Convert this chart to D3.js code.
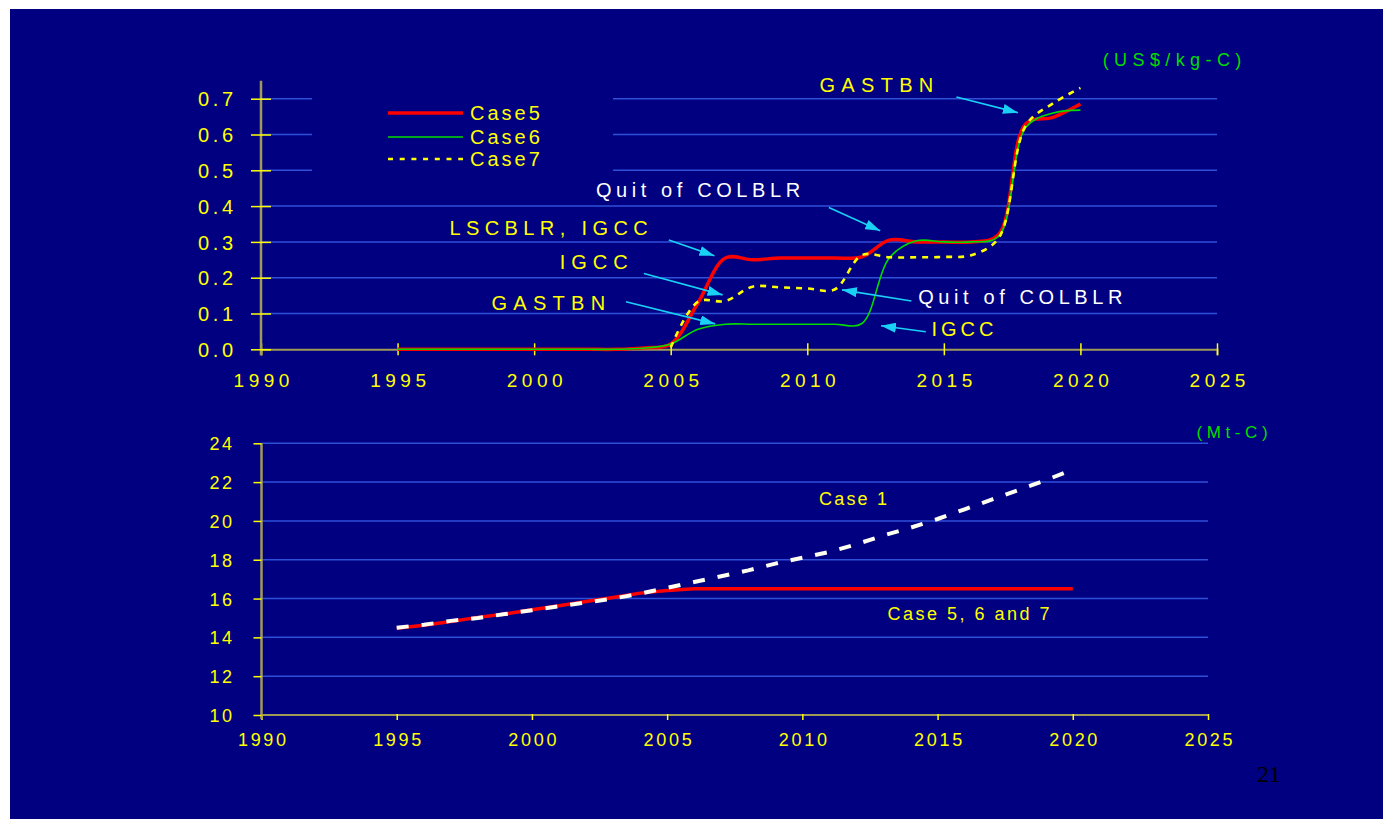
<!DOCTYPE html>
<html>
<head>
<meta charset="utf-8">
<script src="https://cdn.jsdelivr.net/npm/d3@7/dist/d3.min.js"></script>
<style>
  html, body { margin: 0; padding: 0; background: #ffffff; }
  svg { display: block; }
  text { font-family: "Liberation Sans", Arial, sans-serif; }
</style>
</head>
<body>
<svg id="chart" width="1383" height="819"></svg>
<script>
// ---------------- DATA ----------------
const years = [1995,1996,1997,1998,1999,2000,2001,2002,2003,2004,2005,2006,2007,2008,2009,2010,2011,2012,2013,2014,2015,2016,2017,2018,2019,2020];

// Top chart: carbon price (US$/kg-C)
const case5 = [0,0,0,0,0,0,0,0,0,0.004,0.015,0.13,0.255,0.25,0.255,0.255,0.255,0.258,0.305,0.30,0.30,0.30,0.32,0.63,0.648,0.685];
const case6 = [0,0,0,0,0,0,0,0,0,0.003,0.015,0.056,0.07,0.07,0.07,0.07,0.07,0.072,0.255,0.303,0.30,0.30,0.315,0.62,0.66,0.668];
const case7 = [null,null,null,null,null,null,null,null,null,null,0.005,0.133,0.135,0.175,0.173,0.17,0.167,0.263,0.257,0.257,0.258,0.263,0.31,0.625,0.687,0.73];

// Bottom chart: emissions (Mt-C)
const case1 = [14.5,14.65,14.85,15.0,15.2,15.4,15.6,15.8,16.0,16.25,16.55,16.85,17.15,17.45,17.8,18.1,18.4,18.8,19.25,19.65,20.1,20.6,21.1,21.6,22.1,22.65];
const case567 = [14.47,14.63,14.82,15.03,15.2,15.42,15.63,15.85,16.05,16.28,16.42,16.5,16.5,16.5,16.5,16.5,16.5,16.5,16.5,16.5,16.5,16.5,16.5,16.5,16.5,16.5];

const xTicks = [1990,1995,2000,2005,2010,2015,2020,2025];
const yTicksTop = [0,0.1,0.2,0.3,0.4,0.5,0.6,0.7];
const yTicksBot = [10,12,14,16,18,20,22,24];

const legendNames = ["Case5","Case6","Case7"];

// annotations (data coordinates of top chart)
const annotations = [
  {text:"GASTBN",          color:"#ffff00", tx:2012.53, ty:0.738, ls:6.3, x1:2015.46, y1:0.705, x2:2017.71, y2:0.661},
  {text:"Quit of COLBLR",  color:"#ffffff", tx:2006.0,  ty:0.445, ls:4.6, x1:2010.79, y1:0.396, x2:2012.67, y2:0.331},
  {text:"LSCBLR, IGCC",    color:"#ffff00", tx:2000.53, ty:0.339, ls:5.4, x1:2004.93, y1:0.305, x2:2006.6,  y2:0.261},
  {text:"IGCC",            color:"#ffff00", tx:2002.18, ty:0.244, ls:6.0, x1:2004.02, y1:0.212, x2:2006.9,  y2:0.152},
  {text:"GASTBN",          color:"#ffff00", tx:2000.52, ty:0.129, ls:6.3, x1:2003.36, y1:0.133, x2:2006.63, y2:0.071},
  {text:"Quit of COLBLR",  color:"#ffffff", tx:2017.8,  ty:0.146, ls:4.6, x1:2013.81, y1:0.135, x2:2011.27, y2:0.166},
  {text:"IGCC",            color:"#ffff00", tx:2015.68, ty:0.057, ls:4.0, x1:2014.34, y1:0.049, x2:2012.7,  y2:0.066}
];

// ---------------- DRAW ----------------
const svg = d3.select("#chart");
const NAVY = "#000080", GRID = "#2e4fd8", AXIS = "#a09a58", YEL = "#ffff00", GREEN = "#00dd00", CYAN = "#19d0f5";

svg.append("rect").attr("x",10).attr("y",9).attr("width",1373).attr("height",810).attr("fill",NAVY);

const defs = svg.append("defs");
defs.append("marker").attr("id","ah").attr("viewBox","0 0 15 10")
  .attr("refX",15).attr("refY",5).attr("markerWidth",15).attr("markerHeight",10)
  .attr("markerUnits","userSpaceOnUse").attr("orient","auto")
  .append("path").attr("d","M0,0 L15,5 L0,10 Z").attr("fill",CYAN);

// ===== TOP CHART =====
const xT = d3.scaleLinear().domain([1990,2025]).range([261,1217]);
const yT = d3.scaleLinear().domain([0,0.75]).range([349.3,80.8]);

const gT = svg.append("g");
gT.selectAll("line.grid").data(yTicksTop.filter(d=>d>0)).join("line")
  .attr("x1",xT(1990)).attr("x2",xT(2025)).attr("y1",d=>yT(d)).attr("y2",d=>yT(d))
  .attr("stroke",GRID).attr("stroke-width",1.5);

gT.append("rect").attr("x",312).attr("y",88).attr("width",301).attr("height",95).attr("fill",NAVY);

const axT = gT.append("g").attr("transform",`translate(0,${yT(0)})`)
  .call(d3.axisBottom(xT).tickValues(xTicks).tickFormat(d3.format("d")).tickSize(6));
axT.select(".domain").attr("stroke",AXIS).attr("stroke-width",2);
axT.selectAll(".tick line").attr("y1",-6).attr("y2",6).attr("stroke",YEL).attr("stroke-width",1.5);
axT.selectAll(".tick text").attr("fill",YEL).attr("font-size",19).attr("letter-spacing",4.5)
  .attr("y",24).attr("dy","0.71em").attr("dx",2.25);

const ayT = gT.append("g").attr("transform",`translate(${xT(1990)},0)`)
  .call(d3.axisLeft(yT).tickValues(yTicksTop).tickFormat(d3.format(".1f")).tickSize(10));
ayT.select(".domain").attr("d",`M0,${yT(0.75)}V${yT(0)+6}`).attr("stroke",AXIS).attr("stroke-width",2.5);
ayT.selectAll(".tick line").attr("x1",-10).attr("x2",10).attr("stroke",YEL).attr("stroke-width",1.5);
ayT.selectAll(".tick text").attr("fill",YEL).attr("font-size",20).attr("letter-spacing",3.6)
  .attr("x",-28+3.6).attr("dy","0.36em");

const lineT = (vals) => d3.line().defined(d=>d!==null).x((d,i)=>xT(years[i])).y(d=>yT(d)).curve(d3.curveCatmullRom.alpha(0.5))(vals);
gT.append("path").attr("d",lineT(case5)).attr("fill","none").attr("stroke","#ff0000").attr("stroke-width",3.5).attr("stroke-linejoin","round");
gT.append("path").attr("d",lineT(case6)).attr("fill","none").attr("stroke",GREEN).attr("stroke-width",1.6);
gT.append("path").attr("d",lineT(case7)).attr("fill","none").attr("stroke",YEL).attr("stroke-width",2.6).attr("stroke-dasharray","6,6");

const legStyles = [
  {stroke:"#ff0000", w:3.5, dash:null},
  {stroke:GREEN, w:1.6, dash:null},
  {stroke:YEL, w:2.7, dash:"5,6.7"}
];
const legY = [113, 137, 159];
legendNames.forEach((n,i)=>{
  gT.append("line").attr("x1",388).attr("x2",463).attr("y1",legY[i]).attr("y2",legY[i])
    .attr("stroke",legStyles[i].stroke).attr("stroke-width",legStyles[i].w)
    .attr("stroke-dasharray",legStyles[i].dash);
  gT.append("text").attr("x",470).attr("y",legY[i]).attr("dy","0.36em").attr("fill",YEL)
    .attr("font-size",20).attr("letter-spacing",3).text(n);
});

gT.append("text").attr("x",1172+2.7).attr("y",60).attr("dy","0.36em").attr("text-anchor","middle")
  .attr("fill",GREEN).attr("font-size",18).attr("letter-spacing",5.4).text("(US$/kg-C)");

annotations.forEach(a=>{
  gT.append("line").attr("x1",xT(a.x1)).attr("y1",yT(a.y1)).attr("x2",xT(a.x2)).attr("y2",yT(a.y2))
    .attr("stroke",CYAN).attr("stroke-width",1.6).attr("marker-end","url(#ah)");
  gT.append("text").attr("x",xT(a.tx)+a.ls/2).attr("y",yT(a.ty)).attr("dy","0.36em")
    .attr("text-anchor","middle").attr("fill",a.color).attr("font-size",20)
    .attr("letter-spacing",a.ls).text(a.text);
});

// ===== BOTTOM CHART =====
const xB = d3.scaleLinear().domain([1990,2025]).range([261.5,1208]);
const yB = d3.scaleLinear().domain([10,24]).range([715,443.3]);
const gB = svg.append("g");

gB.selectAll("line.grid").data(yTicksBot.filter(d=>d>10)).join("line")
  .attr("x1",xB(1990)).attr("x2",xB(2025)).attr("y1",d=>yB(d)).attr("y2",d=>yB(d))
  .attr("stroke",GRID).attr("stroke-width",1.5);

const axB = gB.append("g").attr("transform",`translate(0,${yB(10)})`)
  .call(d3.axisBottom(xB).tickValues(xTicks).tickFormat(d3.format("d")).tickSize(5));
axB.select(".domain").attr("d",`M${xB(1990)},0H${xB(2025)}`).attr("stroke",AXIS).attr("stroke-width",2);
axB.selectAll(".tick line").attr("y1",-1).attr("y2",5).attr("stroke",YEL).attr("stroke-width",1.5);
axB.selectAll(".tick text").attr("fill",YEL).attr("font-size",18).attr("letter-spacing",2.7)
  .attr("y",18.5).attr("dy","0.71em").attr("dx",1.35);

const ayB = gB.append("g").attr("transform",`translate(${xB(1990)},0)`)
  .call(d3.axisLeft(yB).tickValues(yTicksBot).tickFormat(d3.format("d")).tickSize(8));
ayB.select(".domain").attr("d",`M0,${yB(24)}V${yB(10)+4}`).attr("stroke",AXIS).attr("stroke-width",2.5);
ayB.selectAll(".tick line").attr("stroke",YEL).attr("stroke-width",1.5);
ayB.selectAll(".tick text").attr("fill",YEL).attr("font-size",18).attr("letter-spacing",2.5)
  .attr("x",-29.5+2.5).attr("dy","0.36em");

const lineB = (vals) => d3.line().x((d,i)=>xB(years[i])).y(d=>yB(d))(vals);
gB.append("path").attr("d",lineB(case567)).attr("fill","none").attr("stroke","#ff0000").attr("stroke-width",3.5);
gB.append("path").attr("d",lineB(case1)).attr("fill","none").attr("stroke","#fffff0").attr("stroke-width",4).attr("stroke-dasharray","12,13");

gB.append("text").attr("x",853+1.1).attr("y",499).attr("dy","0.36em").attr("text-anchor","middle")
  .attr("fill",YEL).attr("font-size",18).attr("letter-spacing",2.2).text("Case 1");
gB.append("text").attr("x",968.5+1.25).attr("y",614).attr("dy","0.36em").attr("text-anchor","middle")
  .attr("fill",YEL).attr("font-size",18).attr("letter-spacing",2.5).text("Case 5, 6 and 7");
gB.append("text").attr("x",1232+2.3).attr("y",432).attr("dy","0.36em").attr("text-anchor","middle")
  .attr("fill",GREEN).attr("font-size",17).attr("letter-spacing",4.6).text("(Mt-C)");

svg.append("text").attr("x",1269).attr("y",773).attr("dy","0.36em").attr("text-anchor","middle")
  .attr("fill","#000000").attr("font-size",24).style("font-family","'Liberation Serif', 'Times New Roman', serif").text("21");
</script>
</body>
</html>
